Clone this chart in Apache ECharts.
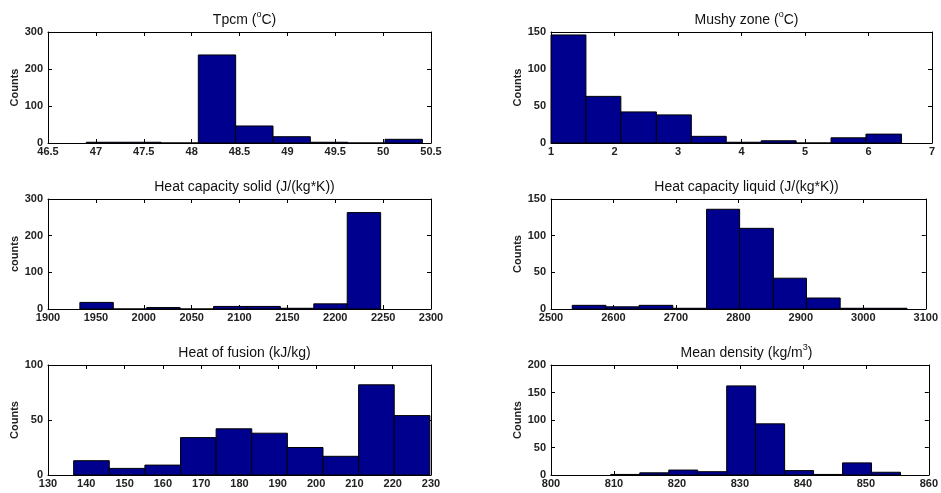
<!DOCTYPE html>
<html><head><meta charset="utf-8">
<script src="https://cdn.jsdelivr.net/npm/echarts@6/dist/echarts.min.js"></script>
<style>html,body{margin:0;padding:0;background:#fff}#c{width:941px;height:493px}</style>
</head><body><div id="c"></div>
<script>
// ---- data (bin edges and counts) ----
const tpcmEdges   = [46.90, 47.29, 47.68, 48.07, 48.46, 48.85, 49.24, 49.63, 50.02, 50.41];
const tpcmCounts  = [2, 2, 0, 238, 46, 17, 2, 0, 10];

const mushyEdges  = [1.00, 1.55, 2.10, 2.66, 3.21, 3.76, 4.31, 4.86, 5.41, 5.96, 6.52];
const mushyCounts = [146, 63, 42, 38, 9, 1, 3, 0, 7, 12];

const cpsEdges    = [1933.3, 1968.2, 2003.1, 2038.0, 2072.9, 2107.8, 2142.7, 2177.6, 2212.5, 2247.4];
const cpsCounts   = [18, 0, 4, 0, 7, 7, 2, 14, 263];

const cplEdges    = [2534, 2588, 2641, 2695, 2749, 2802, 2856, 2909, 2963, 3016, 3070];
const cplCounts   = [5, 3, 5, 1, 136, 110, 42, 15, 1, 1];

const fusEdges    = [136.7, 146.0, 155.3, 164.6, 173.9, 183.2, 192.5, 201.8, 211.1, 220.4, 229.7];
const fusCounts   = [13, 6, 9, 34, 42, 38, 25, 17, 82, 54];

const denEdges    = [809.5, 814.1, 818.7, 823.3, 827.9, 832.5, 837.1, 841.7, 846.3, 850.9, 855.5];
const denCounts   = [1, 4, 9, 6, 162, 93, 8, 1, 22, 5];

const titles = [
  '{a|Tpcm (}{s|o}{a|C)}',
  '{a|Mushy zone (}{s|o}{a|C)}',
  '{a|Heat capacity solid (J/(kg*K))}',
  '{a|Heat capacity liquid (J/(kg*K))}',
  '{a|Heat of fusion (kJ/kg)}',
  '{a|Mean density (kg/m}{s|3}{a|)}'
];
const yNames = ['Counts', 'Counts', 'counts', 'Counts', 'Counts', 'Counts'];
const xMin = [46.5, 1, 1900, 2500, 130, 800];
const xMax = [50.5, 7, 2300, 3100, 230, 860];
const xStep = [0.5, 1, 50, 100, 10, 10];
const yMax = [300, 150, 300, 150, 100, 200];
const yStep = [100, 50, 100, 50, 50, 50];

const panels = [
  [tpcmEdges, tpcmCounts], [mushyEdges, mushyCounts],
  [cpsEdges, cpsCounts], [cplEdges, cplCounts],
  [fusEdges, fusCounts], [denEdges, denCounts]
];

// ---- layout ----
const gridPos = [
  {left: 48, top: 32, width: 383, height: 111},
  {left: 551, top: 32, width: 381, height: 111},
  {left: 48, top: 199, width: 383, height: 110},
  {left: 551, top: 199, width: 381, height: 110},
  {left: 48, top: 365, width: 383, height: 110},
  {left: 551, top: 365, width: 381, height: 110}
];

const FONT = '"Liberation Sans", Arial, sans-serif';
const fmt = v => String(Math.round(v * 1000) / 1000);
const lbl = {fontFamily: FONT, fontSize: 11, fontWeight: 'bold', color: '#222', formatter: fmt};
const axLine = {show: true, onZero: false, lineStyle: {color: '#000', width: 1}};
const tick = {show: true, inside: true, length: 4, lineStyle: {color: '#000', width: 1}};

const option = {
  animation: false,
  backgroundColor: '#fff',
  title: [], grid: [], xAxis: [], yAxis: [], series: []
};

panels.forEach((p, i) => {
  const g = gridPos[i];
  option.grid.push(Object.assign({containLabel: false}, g));
  option.title.push({
    text: titles[i],
    left: g.left + g.width / 2, textAlign: 'center',
    top: g.top - 27,
    textStyle: {
      fontWeight: 'normal',
      rich: {
        a: {fontFamily: FONT, fontSize: 14, fontWeight: 'normal', color: '#111', lineHeight: 17, verticalAlign: 'bottom'},
        s: {fontFamily: FONT, fontSize: 9, fontWeight: 'normal', color: '#111', lineHeight: 17, verticalAlign: 'top'}
      }
    }
  });
  const common = {gridIndex: i, min: xMin[i], max: xMax[i], interval: xStep[i], splitLine: {show: false}, axisLine: axLine, axisTick: tick};
  option.xAxis.push(Object.assign({type: 'value', position: 'bottom',
    axisLabel: Object.assign({margin: 3}, lbl)}, common));
  option.xAxis.push(Object.assign({type: 'value', position: 'top', axisLabel: {show: false}}, common));
  const yc = {gridIndex: i, min: 0, max: yMax[i], interval: yStep[i], splitLine: {show: false}, axisLine: axLine, axisTick: tick};
  option.yAxis.push(Object.assign({type: 'value', position: 'left',
    name: yNames[i], nameLocation: 'middle', nameGap: 28,
    nameTextStyle: {fontFamily: FONT, fontSize: 11, fontWeight: 'bold', color: '#222'},
    axisLabel: Object.assign({margin: 5}, lbl)}, yc));
  option.yAxis.push(Object.assign({type: 'value', position: 'right', axisLabel: {show: false}}, yc));

  const edges = p[0], counts = p[1];
  const data = counts.map((c, k) => [edges[k], edges[k + 1], c]);
  option.series.push({
    type: 'custom',
    xAxisIndex: i * 2, yAxisIndex: i * 2,
    encode: {x: [0, 1], y: 2},
    data: data,
    renderItem: function (params, api) {
      const a = api.coord([api.value(0), api.value(2)]);
      const b = api.coord([api.value(1), 0]);
      return {
        type: 'rect',
        shape: {x: a[0], y: a[1], width: b[0] - a[0], height: b[1] - a[1]},
        style: {fill: '#00008F', stroke: '#000', lineWidth: 1}
      };
    }
  });
});

const chart = echarts.init(document.getElementById('c'), null, {renderer: 'canvas'});
chart.setOption(option);
</script>
</body></html>
